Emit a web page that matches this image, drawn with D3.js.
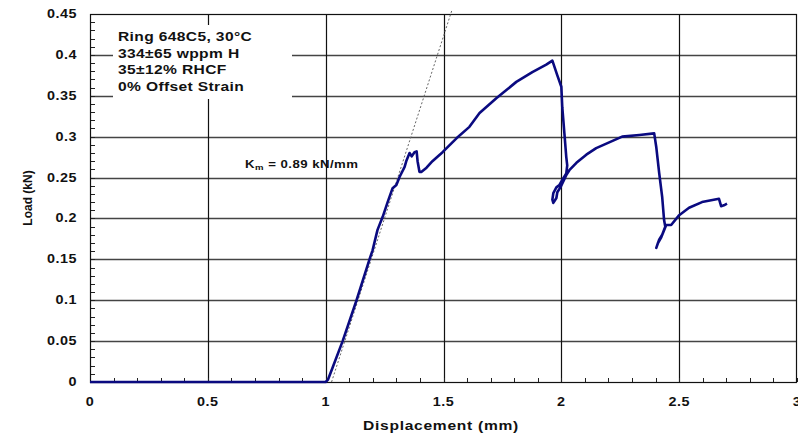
<!DOCTYPE html>
<html>
<head>
<meta charset="utf-8">
<script src="https://cdn.jsdelivr.net/npm/d3@7"></script>
<style>
body { margin: 0; background: #fff; }
svg { display: block; font-family: "Liberation Sans", Arial, sans-serif; }
</style>
</head>
<body>
<svg id="chart" width="798" height="434"></svg>
<script>
// load-displacement trace
var dispMm = [0, 0.5, 1.0, 1.01, 1.03, 1.072, 1.131, 1.186, 1.199, 1.22, 1.242, 1.263, 1.284, 1.30, 1.314, 1.335, 1.343, 1.356, 1.365, 1.377, 1.386, 1.39, 1.398, 1.407, 1.428, 1.453, 1.496, 1.555, 1.61, 1.653, 1.724, 1.767, 1.809, 1.877, 1.936, 1.962, 1.983, 2.0, 2.004, 2.013, 2.021, 2.025, 2.021, 2.004, 1.992, 1.979, 1.966, 1.962, 1.966, 1.979, 1.983, 1.996, 2.021, 2.034, 2.064, 2.106, 2.148, 2.203, 2.258, 2.331, 2.394, 2.403, 2.415, 2.428, 2.436, 2.441, 2.428, 2.415, 2.403, 2.41, 2.424, 2.445, 2.466, 2.5, 2.542, 2.597, 2.669, 2.678, 2.69, 2.703]
var loadKn = [0, 0, 0, 0.003, 0.018, 0.05, 0.1, 0.15, 0.161, 0.186, 0.202, 0.22, 0.237, 0.241, 0.251, 0.263, 0.271, 0.28, 0.276, 0.281, 0.282, 0.27, 0.257, 0.257, 0.262, 0.27, 0.281, 0.298, 0.312, 0.329, 0.347, 0.357, 0.367, 0.379, 0.388, 0.393, 0.375, 0.361, 0.336, 0.304, 0.275, 0.265, 0.255, 0.247, 0.241, 0.238, 0.231, 0.223, 0.219, 0.225, 0.232, 0.238, 0.253, 0.259, 0.268, 0.278, 0.286, 0.293, 0.30, 0.302, 0.304, 0.287, 0.256, 0.226, 0.198, 0.19, 0.18, 0.174, 0.164, 0.17, 0.177, 0.192, 0.192, 0.204, 0.213, 0.22, 0.224, 0.215, 0.216, 0.218]
// stiffness line Km = 0.89 kN/mm
var kmX = [1.025, 1.535]
var kmY = [0, 0.454]
var xTicks = [0, 0.5, 1, 1.5, 2, 2.5, 3]
var yTicks = [0, 0.05, 0.1, 0.15, 0.2, 0.25, 0.3, 0.35, 0.4, 0.45]
var infoLines = ["Ring 648C5, 30°C", "334±65 wppm H", "35±12% RHCF", "0% Offset Strain"]

var svg = d3.select('#chart')
var m = { left: 90, right: 797, top: 14, bottom: 382 }
var sx = 1.2 // the source picture is stretched sideways

var x = d3.scaleLinear().domain([0, 3]).range([m.left, m.right])
var y = d3.scaleLinear().domain([0, 0.45]).range([m.bottom, m.top])

function at(px, py) { return 'translate(' + px + ',' + py + ') scale(' + sx + ',1)' }

// grid
svg.append('g').selectAll('line').data(yTicks.slice(1, -1)).join('line')
    .attr('x1', m.left).attr('x2', m.right)
    .attr('y1', d => Math.round(y(d)) + 0.5).attr('y2', d => Math.round(y(d)) + 0.5)
    .attr('stroke', '#444').attr('stroke-width', 1.3)
svg.append('g').selectAll('line').data(xTicks.slice(1, -1)).join('line')
    .attr('y1', m.top).attr('y2', m.bottom)
    .attr('x1', d => Math.round(x(d)) + 0.5).attr('x2', d => Math.round(x(d)) + 0.5)
    .attr('stroke', '#111').attr('stroke-width', 1.2)

// white box behind the info text
svg.append('rect').attr('x', 113).attr('y', 25).attr('width', 179).attr('height', 74).attr('fill', '#fff')

// minor ticks
var xMinor = d3.range(0, 31).map(i => i / 10)
var yMinor = d3.range(0, 46).map(i => i / 100)
svg.append('g').selectAll('line').data(xMinor).join('line')
    .attr('x1', d => Math.round(x(d)) + 0.5).attr('x2', d => Math.round(x(d)) + 0.5)
    .attr('y1', m.bottom).attr('y2', m.bottom - 4)
    .attr('stroke', '#222')
svg.append('g').selectAll('line').data(yMinor).join('line')
    .attr('y1', d => Math.round(y(d)) + 0.5).attr('y2', d => Math.round(y(d)) + 0.5)
    .attr('x1', m.left).attr('x2', m.left + 5)
    .attr('stroke', '#222')

// frame
svg.append('rect').attr('x', m.left + 0.5).attr('y', m.top + 0.5)
    .attr('width', m.right - m.left - 1).attr('height', m.bottom - m.top)
    .attr('fill', 'none').attr('stroke', '#111').attr('stroke-width', 1.2)

// tick labels
svg.append('g').selectAll('text').data(xTicks).join('text')
    .attr('transform', d => at(x(d), 406))
    .attr('text-anchor', 'middle').attr('font-size', 12).attr('font-weight', 'bold')
    .attr('letter-spacing', 0.4).attr('fill', '#111')
    .text(d => d)
svg.append('g').selectAll('text').data(yTicks).join('text')
    .attr('transform', d => at(77, y(d) + 4))
    .attr('text-anchor', 'end').attr('font-size', 12).attr('font-weight', 'bold')
    .attr('letter-spacing', 0.4).attr('fill', '#111')
    .text(d => d)

// axis titles
svg.append('text').attr('transform', at(441, 430)).attr('text-anchor', 'middle')
    .attr('font-size', 13).attr('font-weight', 'bold').attr('letter-spacing', 0.6)
    .attr('fill', '#111').text('Displacement (mm)')
svg.append('text').attr('transform', 'translate(32,198) rotate(-90)').attr('text-anchor', 'middle')
    .attr('font-size', 12).attr('font-weight', 'bold')
    .attr('fill', '#111').text('Load (kN)')

// info text
svg.append('g').selectAll('text').data(infoLines).join('text')
    .attr('transform', (d, i) => at(118, 41 + i * 16.5))
    .attr('font-size', 13).attr('font-weight', 'bold').attr('letter-spacing', 0.3)
    .attr('fill', '#111').text(d => d)

// Km label
var km = svg.append('text').attr('transform', at(245, 168))
    .attr('font-size', 11).attr('font-weight', 'bold').attr('letter-spacing', 0.4).attr('fill', '#111')
km.append('tspan').text('K')
km.append('tspan').attr('font-size', 8).attr('dy', 2).text('m')
km.append('tspan').attr('dy', -2).text(' = 0.89 kN/mm')

// stiffness line
svg.append('path')
    .datum(d3.zip(kmX, kmY))
    .attr('d', d3.line().x(d => x(d[0])).y(d => y(d[1])))
    .attr('fill', 'none').attr('stroke', '#666').attr('stroke-width', 1)
    .attr('stroke-dasharray', '2,2')

// curve
svg.append('path')
    .datum(d3.zip(dispMm, loadKn))
    .attr('d', d3.line().x(d => x(d[0])).y(d => y(d[1])))
    .attr('fill', 'none').attr('stroke', '#0a0a80').attr('stroke-width', 2.6)
    .attr('stroke-linejoin', 'round')
</script>
</body>
</html>
